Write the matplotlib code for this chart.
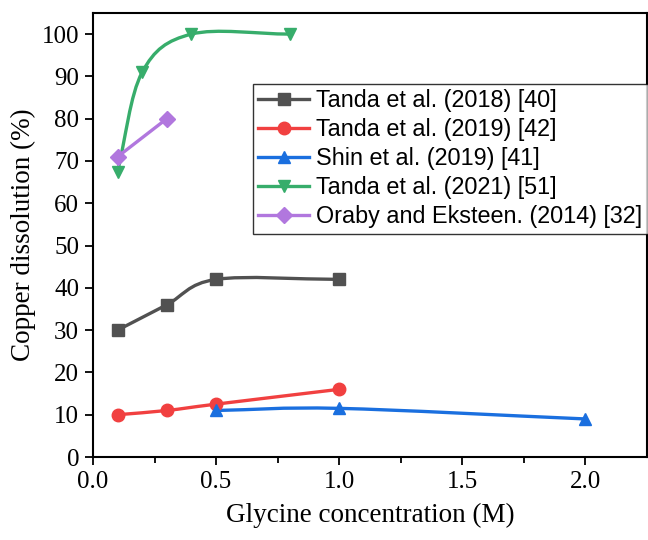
import matplotlib as mpl
mpl.use('Agg')
import matplotlib.pyplot as plt
from matplotlib.path import Path
from matplotlib.patches import PathPatch
import numpy as np

# data
x_t18 = [0.1, 0.3, 0.5, 1.0]
y_t18 = [30, 36, 42, 42]
x_t19 = [0.1, 0.3, 0.5, 1.0]
y_t19 = [10, 11, 12.5, 16]
x_shin = [0.5, 1.0, 2.0]
y_shin = [11, 11.5, 9]
x_t21 = [0.1, 0.2, 0.4, 0.8]
y_t21 = [67.5, 91, 100, 100]
x_or = [0.1, 0.3]
y_or = [71, 80]

labels = ['Tanda et al. (2018) [40]', 'Tanda et al. (2019) [42]', 'Shin et al. (2019) [41]',
          'Tanda et al. (2021) [51]', 'Oraby and Eksteen. (2014) [32]']
colors = ['#515151', '#F14040', '#1A6FDF', '#37AD6B', '#B177DE']
markers = ['s', 'o', '^', 'v', 'D']


def bezier_path(x, y):
  # catmull-rom style bezier through the points (like Origin's bezier connect)
  P = np.column_stack([x, y]).astype(float)
  n = len(P)
  T = np.zeros_like(P)
  T[0] = P[1] - P[0]
  T[-1] = P[-1] - P[-2]
  for i in range(1, n - 1):
    T[i] = (P[i + 1] - P[i - 1]) / 2.0
  verts = [P[0]]
  codes = [Path.MOVETO]
  for i in range(n - 1):
    verts += [P[i] + T[i] / 3.0, P[i + 1] - T[i + 1] / 3.0, P[i + 1]]
    codes += [Path.CURVE4] * 3
  return Path(verts, codes)


fig = plt.figure(figsize=(6.48, 5.4), dpi=100)
ax = fig.add_axes([0.1435, 0.1537, 0.8545, 0.8223])

series = [(x_t18, y_t18), (x_t19, y_t19), (x_shin, y_shin), (x_t21, y_t21), (x_or, y_or)]
for (xx, yy), lab, c, mk in zip(series, labels, colors, markers):
  patch = PathPatch(bezier_path(xx, yy), facecolor='none', edgecolor=c, lw=2.4, zorder=2)
  ax.add_patch(patch)
  ms = 8 if mk == 'D' else 9
  ax.plot(xx, yy, linestyle='none', marker=mk, color=c, ms=ms, zorder=3)
  ax.plot([], [], color=c, lw=2.4, marker=mk, ms=ms, label=lab)

ax.set_xlim(0, 2.25)
ax.set_ylim(0, 105)
ax.set_xticks([0.0, 0.5, 1.0, 1.5, 2.0])
ax.set_xticks(np.arange(0.25, 2.25, 0.5), minor=True)
ax.set_yticks(np.arange(0, 101, 10))
ax.xaxis.set_major_formatter(mpl.ticker.FormatStrFormatter('%.1f'))

serif = 'Liberation Serif'
ax.tick_params(axis='both', which='major', direction='out', width=1.3, length=6, pad=4, labelsize=18)
ax.tick_params(axis='x', which='minor', direction='out', width=1.3, length=4)
for lab in ax.get_xticklabels() + ax.get_yticklabels():
  lab.set_fontfamily(serif)
for s in ax.spines.values():
  s.set_linewidth(1.5)

ax.set_xlabel('Glycine concentration (M)', fontfamily=serif, fontsize=19.5, labelpad=7)
ax.set_ylabel('Copper dissolution (%)', fontfamily=serif, fontsize=19.5, labelpad=4)

leg = ax.legend(loc='upper left', bbox_to_anchor=(0.289, 0.84), prop={'family': 'Liberation Sans', 'size': 16.8},
                frameon=True, fancybox=False, edgecolor='black', handlelength=2.2,
                borderpad=0.22, labelspacing=0.26, handletextpad=0.3, borderaxespad=0)
leg.get_frame().set_linewidth(1.0)

plt.savefig('out.png', dpi=100)
plt.close()
